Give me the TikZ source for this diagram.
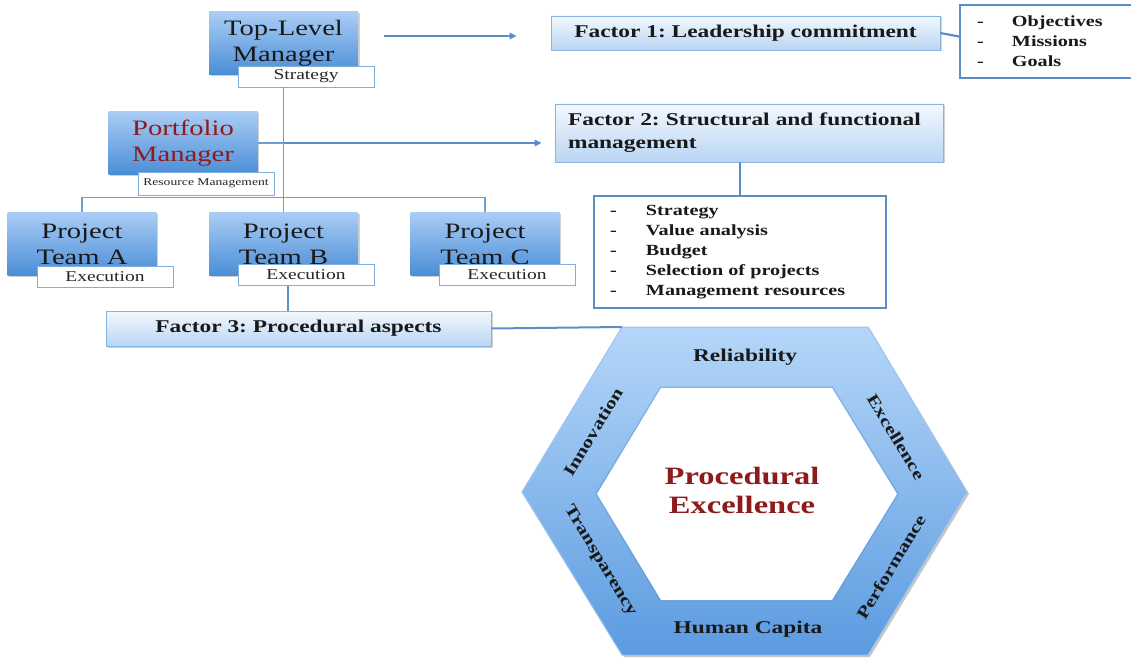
\documentclass[tikz,border=0pt]{standalone}
\usepackage{fontspec}
\setmainfont{Liberation Serif}
\newfontfamily\wserif[FakeStretch=1.3]{Liberation Serif}
\usetikzlibrary{arrows.meta,shadows,calc}
\definecolor{mgrtop}{HTML}{AACDF5}
\definecolor{mgrbot}{HTML}{4A8DD6}
\definecolor{factop}{HTML}{F3F8FE}
\definecolor{facbot}{HTML}{B9D5F3}
\definecolor{facline}{HTML}{8AB4E0}
\definecolor{conn}{HTML}{5B8EC6}
\definecolor{busc}{HTML}{6E9FD3}
\definecolor{lblline}{HTML}{7FAEDF}
\definecolor{darkred}{HTML}{8E1B1B}
\definecolor{hextop}{HTML}{B5D6F9}
\definecolor{hexbot}{HTML}{5B9BE0}
\definecolor{hexline}{HTML}{9CC3EC}
\definecolor{hexinner}{HTML}{4F8AD0}
\frenchspacing
\begin{document}
\begin{tikzpicture}[x=1pt,y=-1pt,
  shadowed/.style={drop shadow={shadow xshift=1.5pt,shadow yshift=-1.5pt,opacity=0.3,fill=black!60}},
  mgr/.style={rectangle,top color=mgrtop,bottom color=mgrbot,draw=none,minimum width=149pt,minimum height=63pt,inner sep=0pt,align=center,font=\wserif\frenchspacing\fontsize{22}{26}\selectfont,text=black!90,shadowed},
  lbl/.style={rectangle,fill=white,draw=lblline,line width=0.8pt,minimum width=136pt,minimum height=21pt,inner sep=0pt,font=\wserif\fontsize{15}{18}\selectfont,text=black!85},
  factor/.style={rectangle,top color=factop,bottom color=facbot,draw=facline,line width=0.8pt,inner sep=0pt,font=\wserif\frenchspacing\bfseries\fontsize{18}{23}\selectfont,text=black!90,shadowed},
  listbox/.style={rectangle,fill=white,draw=conn,line width=1.8pt,inner ysep=0pt,align=left,font=\wserif\bfseries\fontsize{15.5}{20}\selectfont,text=black!90},
  bus/.style={draw=busc,line width=1.2pt},
  conline/.style={draw=conn,line width=2.2pt},
  arr/.style={draw=conn,line width=2.2pt,-{Triangle[length=7pt,width=6.5pt]}},
  hexlbl/.style={inner sep=0pt,font=\wserif\bfseries\fontsize{16.5}{18}\selectfont,text=black!90}
]
\useasboundingbox (0,0) rectangle (1131,660);

% ---------- hexagon ----------
\coordinate (hTL) at (622,327);
\coordinate (hTR) at (868,327);
\coordinate (hR) at (967,492);
\coordinate (hBR) at (868,655);
\coordinate (hBL) at (622,655);
\coordinate (hL) at (522,492);
\coordinate (iTL) at (661,388);
\coordinate (iTR) at (832,388);
\coordinate (iR) at (897,494);
\coordinate (iBR) at (832,600);
\coordinate (iBL) at (661,600);
\coordinate (iL) at (597,494);
\fill[black,opacity=0.22] ([shift={(2,2)}]hTL) -- ([shift={(2,2)}]hTR) -- ([shift={(2,2)}]hR) -- ([shift={(2,2)}]hBR) -- ([shift={(2,2)}]hBL) -- ([shift={(2,2)}]hL) -- cycle;
\shade[top color=hextop,bottom color=hexbot] (hTL) -- (hTR) -- (hR) -- (hBR) -- (hBL) -- (hL) -- cycle;
\draw[hexline,line width=1pt] (hTL) -- (hTR) -- (hR) -- (hBR) -- (hBL) -- (hL) -- cycle;
\draw[hexinner,opacity=0.35,line width=3pt,line join=miter] (iTL) -- (iTR) -- (iR) -- (iBR) -- (iBL) -- (iL) -- cycle;
\fill[white] (iTL) -- (iTR) -- (iR) -- (iBR) -- (iBL) -- (iL) -- cycle;

\node[hexlbl,font=\wserif\bfseries\fontsize{18}{20}\selectfont] (rel) at (745,357) {Reliability};
\node[hexlbl,rotate=59] (inn) at (593,432) {Innovation};
\node[hexlbl,rotate=-59] (exc) at (896,437) {Excellence};
\node[hexlbl,rotate=-59] (tra) at (600,561) {Transparency};
\node[hexlbl,rotate=59] (per) at (891,567) {Performance};
\node[hexlbl,font=\wserif\bfseries\fontsize{18}{20}\selectfont] (hum) at (748,629) {Human Capita};
\node[inner sep=0pt,align=center,text=darkred,font=\wserif\bfseries\fontsize{25}{29}\selectfont] (pe) at (742,490) {Procedural\\Excellence};

% ---------- manager / team boxes ----------
\node[mgr] (tlm) at (283.5,43.5) {Top-Level\\Manager};
\node[mgr,text=darkred] (pm) at (183,143) {Portfolio\\Manager};
\node[mgr] (ta) at (82,244) {Project\\Team A};
\node[mgr] (tb) at (283.5,244) {Project\\Team B};
\node[mgr] (tc) at (485,244) {Project\\Team C};

\node[lbl] (strat) at (306,76.5) {Strategy};
\node[lbl,minimum height=23pt,font=\wserif\fontsize{10.5}{12}\selectfont] (res) at (206,183.5) {Resource Management};
\node[lbl] (exa) at (105,276.5) {Execution};
\node[lbl] (exb) at (306,275) {Execution};
\node[lbl] (exc2) at (507,275) {Execution};

% ---------- factor boxes ----------
\node[factor,minimum width=389pt,minimum height=34pt] (f1) at (745.5,33) {Factor 1: Leadership commitment};
\node[factor,minimum width=388pt,minimum height=58pt,text width=362pt,align=left] (f2) at (749,133) {Factor 2: Structural and functional\\management};
\node[factor,minimum width=385pt,minimum height=35pt] (f3) at (298.5,328.5) {Factor 3: Procedural aspects};

% ---------- list boxes ----------
\node[listbox,minimum width=175pt,minimum height=73pt,inner xsep=17pt,text width=141pt] (obj) at (1047.5,41.5)
  {\makebox[35pt][l]{-}Objectives\\\makebox[35pt][l]{-}Missions\\\makebox[35pt][l]{-}Goals};
\node[listbox,minimum width=292pt,minimum height=112pt,inner xsep=16pt,text width=260pt] (bul) at (740,252)
  {\makebox[36pt][l]{-}Strategy\\\makebox[36pt][l]{-}Value analysis\\\makebox[36pt][l]{-}Budget\\\makebox[36pt][l]{-}Selection of projects\\\makebox[36pt][l]{-}Management resources};

% ---------- connectors ----------
\draw[bus] (strat.south -| tlm.south) -- (tb.north);
\draw[bus] (ta.north) -- ++(0,-15) -| (tc.north);
\draw[bus] (pm.east) -- (pm.east -| tlm.south);
\draw[arr] (pm.east -| tlm.south) -- ([xshift=-13pt]pm.east -| f2.west);
\draw[arr] ([xshift=26pt,yshift=7.5pt]tlm.east) -- ([xshift=-34pt,yshift=7.5pt]tlm.east -| f1.west);
\draw[conline] (f1.east) -- ([yshift=5pt]obj.west);
\draw[conline] (bul.north |- f2.south) -- (bul.north);
\draw[conline] ([xshift=-18pt]exb.south) -- ([xshift=-18pt]exb.south |- f3.north);
\draw[conline,line width=2pt] (f3.east) -- (hTL);
\end{tikzpicture}
\end{document}
